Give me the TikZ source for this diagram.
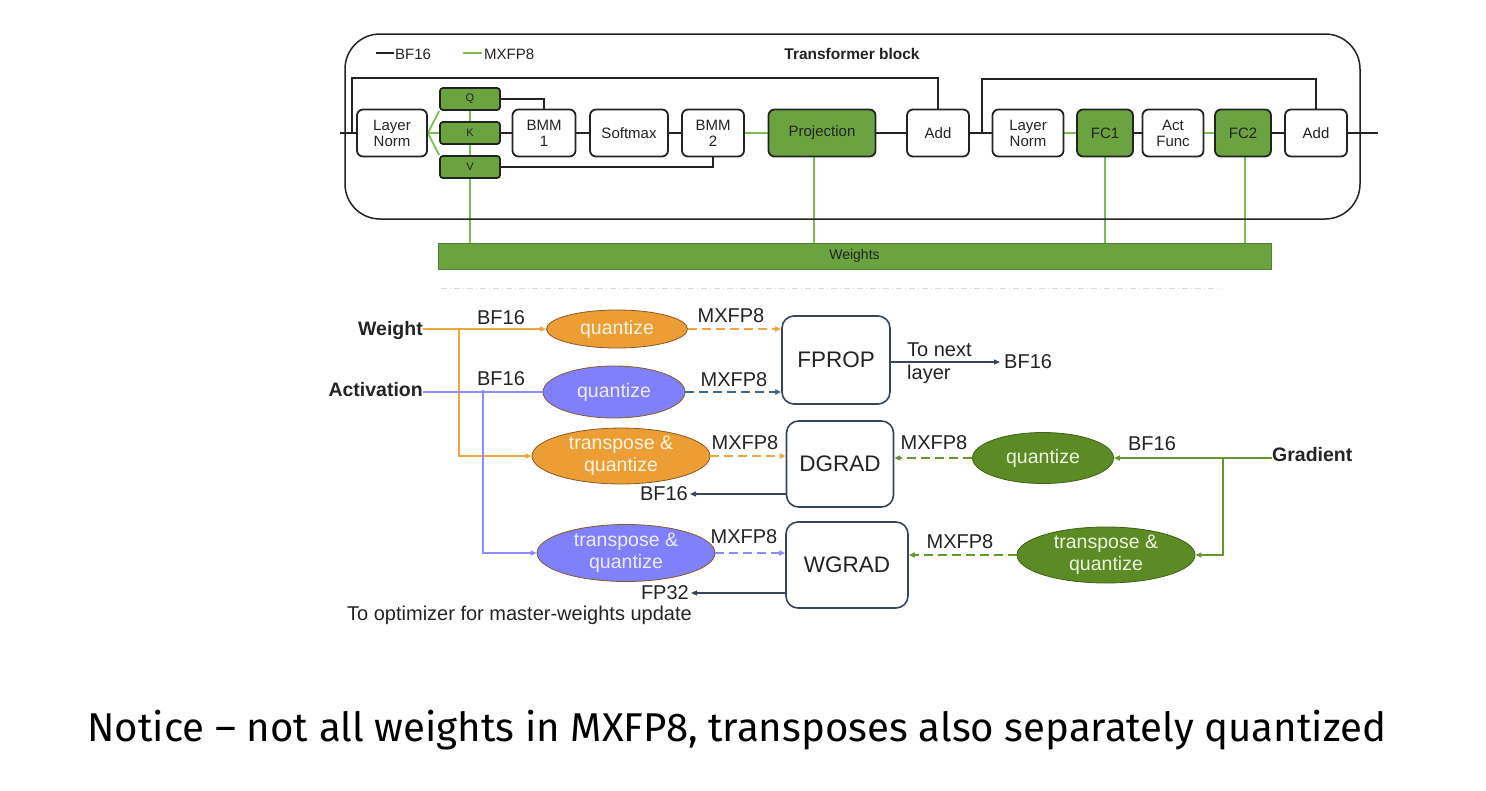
\documentclass[tikz,border=0pt]{standalone}
\usepackage{fontspec}
\setmainfont{Liberation Sans}
\newfontfamily\capfont{Fira Sans}
\usetikzlibrary{arrows.meta,shapes.geometric}

\definecolor{boxgreen}{RGB}{106,163,63}
\definecolor{wiregreen}{RGB}{124,190,82}
\definecolor{olivefill}{RGB}{92,138,36}
\definecolor{oliveline}{RGB}{104,152,44}
\definecolor{orangefill}{RGB}{236,157,52}
\definecolor{orangeline}{RGB}{240,166,62}
\definecolor{violetfill}{RGB}{128,128,250}
\definecolor{violetline}{RGB}{140,140,255}
\definecolor{steel}{RGB}{62,104,142}
\definecolor{slate}{RGB}{55,70,88}
\definecolor{ink}{RGB}{35,35,35}

\pgfdeclarelayer{bg}
\pgfsetlayers{bg,main}

\tikzset{
  blk/.style={draw=ink, line width=1.8pt, rounded corners=6pt, fill=white,
    minimum height=47pt, inner sep=0pt, align=center,
    font=\fontsize{15}{16}\selectfont, text=ink},
  gblk/.style={blk, fill=boxgreen},
  qkv/.style={draw=ink, line width=1.8pt, rounded corners=3pt, fill=boxgreen,
    minimum width=60pt, minimum height=22pt, inner sep=0pt,
    font=\fontsize{11}{12}\selectfont, text=ink},
  wire/.style={ink, line width=1.8pt},
  gwire/.style={wiregreen, line width=1.8pt},
  unit/.style={draw=slate, line width=1.6pt, rounded corners=12pt, fill=white,
    inner sep=0pt, font=\fontsize{22.5}{24}\selectfont, text=ink},
  oval/.style={ellipse, line width=0.8pt, inner sep=0pt, align=center,
    font=\fontsize{19.5}{22}\selectfont},
  lbl/.style={inner sep=0pt, font=\fontsize{20}{22}\selectfont, text=ink},
  head/.style={inner sep=0pt, font=\bfseries\fontsize{19.5}{22}\selectfont, text=ink},
  tip/.style={-{Triangle[length=6pt,width=5pt]}},
  dsh/.style={dash pattern=on 9pt off 5pt},
}

\begin{document}
\begin{tikzpicture}[x=1pt, y=-1pt]
\useasboundingbox (0,0) rectangle (1486,790);

% ---------- transformer block ----------
\draw[ink, line width=1.5pt, rounded corners=35pt] (345,34) rectangle (1360,219);

% legend
\coordinate (lgA) at (376,53);
\coordinate (lgB) at (394,53);
\coordinate (lgC) at (463,53);
\coordinate (lgD) at (482,53);
\draw[wire] (lgA) -- (lgB);
\node[anchor=west, inner sep=0pt, font=\fontsize{15}{16}\selectfont, text=ink] (lgbf) at (395,54) {BF16};
\draw[gwire] (lgC) -- (lgD);
\node[anchor=west, inner sep=0pt, font=\fontsize{15}{16}\selectfont, text=ink] (lgmx) at (484,54) {MXFP8};
\node[font=\bfseries\fontsize{15.5}{16}\selectfont, text=ink] (title) at (852,54) {Transformer block};

% blocks on the main path
\node[blk, minimum width=70pt] (ln1) at (392,133) {Layer\\Norm};
\node[qkv] (q) at (470,99) {Q};
\node[qkv] (k) at (470,133) {K};
\node[qkv] (v) at (470,167) {V};
\node[blk, minimum width=63pt] (bmm1) at (544,133) {BMM\\1};
\node[blk, minimum width=78pt] (soft) at (629,133) {Softmax};
\node[blk, minimum width=62pt] (bmm2) at (713,133) {BMM\\2};
\node[gblk, minimum width=107pt] (proj) at (822,133) {Projection};
\node[blk, minimum width=62pt] (add1) at (938,133) {Add};
\node[blk, minimum width=71pt] (ln2) at (1028,133) {Layer\\Norm};
\node[gblk, minimum width=56pt] (fc1) at (1105,133) {FC1};
\node[blk, minimum width=61pt] (act) at (1173,133) {Act\\Func};
\node[gblk, minimum width=56pt] (fc2) at (1243,133) {FC2};
\node[blk, minimum width=62pt] (add2) at (1316,133) {Add};

% weights bar
\node[draw=boxgreen!80!black, line width=0.6pt, fill=boxgreen, minimum width=833pt,
  minimum height=26pt, inner sep=0pt, font=\fontsize{14}{15}\selectfont, text=ink]
  (weights) at (854.5,256) {Weights};

% separator
\coordinate (sepL) at (441,288);
\coordinate (sepR) at (1222,288);
\draw[gray!30, line width=1pt, dash pattern=on 6pt off 3pt on 1pt off 3pt] (sepL) -- (sepR);

\coordinate (in) at (340,133);
\coordinate (r1) at (352,133);
\coordinate (top1) at (0,78);
\coordinate (r2) at (982,133);
\coordinate (top2) at (0,79);
\coordinate (out) at (1378,133);

\begin{pgfonlayer}{bg}
  % BF16 paths
  \draw[wire] (in) -- (ln1.west);
  \draw[wire] (r1) -- (r1 |- top1) -| (add1.north);
  \draw[wire] (q.east) -| (bmm1.north);
  \draw[wire] (k.east) -- (bmm1.west);
  \draw[wire] (v.east) -| (bmm2.south);
  \draw[wire] (bmm1.east) -- (soft.west);
  \draw[wire] (soft.east) -- (bmm2.west);
  \draw[wire] (proj.east) -- (add1.west);
  \draw[wire] (add1.east) -- (ln2.west);
  \draw[wire] (r2) -- (r2 |- top2) -| (add2.north);
  \draw[wire] (fc1.east) -- (act.west);
  \draw[wire] (fc2.east) -- (add2.west);
  \draw[wire] (add2.east) -- (out);
  % MXFP8 paths
  \draw[gwire] (ln1.east) -- (q.south west);
  \draw[gwire] (ln1.east) -- (k.west);
  \draw[gwire] (ln1.east) -- (v.north west);
  \draw[gwire] (bmm2.east) -- (proj.west);
  \draw[gwire] (ln2.east) -- (fc1.west);
  \draw[gwire] (act.east) -- (fc2.west);
  \draw[gwire] (q.center) -- (q.center |- weights.north);
  \draw[gwire] ([xshift=-8pt]proj.center) -- ([xshift=-8pt]proj.center |- weights.north);
  \draw[gwire] (fc1.center) -- (fc1.center |- weights.north);
  \draw[gwire] ([xshift=2pt]fc2.center) -- ([xshift=2pt]fc2.center |- weights.north);
\end{pgfonlayer}

% ---------- quantization data flow ----------
\node[head, anchor=east] (weight) at (423,330) {Weight};
\node[head, anchor=east] (actv) at (423,390) {Activation};
\node[head, anchor=west] (grad) at (1272,455) {Gradient};

\node[oval, draw=brown!70!black, fill=orangefill, text={rgb,255:red,255;green,246;blue,228},
  minimum width=141pt, minimum height=38pt] (wq) at (617,329) {quantize};
\node[oval, draw=brown!70!black, fill=violetfill, text={rgb,255:red,236;green,236;blue,255},
  minimum width=142pt, minimum height=52pt] (aq) at (614,392) {quantize};
\node[oval, draw=brown!70!black, fill=orangefill, text={rgb,255:red,255;green,246;blue,228},
  minimum width=178pt, minimum height=46pt] (wt) at (621,456) {transpose \&\\quantize};
\node[oval, draw=brown!70!black, fill=violetfill, text={rgb,255:red,236;green,236;blue,255},
  minimum width=178pt, minimum height=57pt] (at) at (626,553) {transpose \&\\quantize};
\node[oval, draw=olivefill!70!black, fill=olivefill, text={rgb,255:red,236;green,244;blue,226},
  minimum width=141pt, minimum height=51pt] (gq) at (1043,458) {quantize};
\node[oval, draw=olivefill!70!black, fill=olivefill, text={rgb,255:red,236;green,244;blue,226},
  minimum width=178pt, minimum height=56pt] (gt) at (1106,555) {transpose \&\\quantize};

\node[unit, minimum width=108pt, minimum height=88pt] (fprop) at (836,360) {FPROP};
\node[unit, minimum width=107pt, minimum height=86pt] (dgrad) at (840,464) {DGRAD};
\node[unit, minimum width=122pt, minimum height=86pt] (wgrad) at (847,565) {WGRAD};

\coordinate (wsplit) at (459,329);
\coordinate (asplit) at (483,390);
\coordinate (gsplit) at (1223,457);

% BF16 inputs
\draw[orangeline, line width=1.5pt, tip] (weight.east |- wq.west) -- (wq.west);
\draw[orangeline, line width=1.5pt, tip] (wsplit) |- (wt.west);
\draw[violetline, line width=1.5pt] (actv.east |- aq.west) -- (aq.west);
\draw[violetline, line width=1.5pt, tip] (asplit) |- (at.west);
\draw[oliveline, line width=1.5pt, tip] (grad.west |- gq.east) -- (gq.east);
\draw[oliveline, line width=1.5pt, tip] (gsplit) |- (gt.east);

% MXFP8 operands
\draw[orangeline, line width=1.5pt, dsh, tip] (wq.east) -- (fprop.west |- wq.east);
\draw[steel, line width=1.5pt, dsh, tip] (aq.east) -- (fprop.west |- aq.east);
\draw[orangeline, line width=1.5pt, dsh, tip] (wt.east) -- (dgrad.west |- wt.east);
\draw[violetline, line width=1.5pt, dsh, tip] (at.east) -- (wgrad.west |- at.east);
\draw[oliveline, line width=1.5pt, dsh, tip] (gq.west) -- (dgrad.east |- gq.west);
\draw[oliveline, line width=1.5pt, dsh, tip] (gt.west) -- (wgrad.east |- gt.west);

% labels
\node[lbl] (l1) at (501,318) {BF16};
\node[lbl] (l2) at (501,379) {BF16};
\node[lbl] (l3) at (731,316) {MXFP8};
\node[lbl] (l4) at (734,380) {MXFP8};
\node[lbl] (l5) at (745,443) {MXFP8};
\node[lbl] (l6) at (744,537) {MXFP8};
\node[lbl] (l7) at (934,443) {MXFP8};
\node[lbl] (l8) at (960,542) {MXFP8};
\node[lbl] (l9) at (1152,444) {BF16};

% outputs
\node[lbl, anchor=west] (nextbf) at (1004,362) {BF16};
\node[lbl, anchor=west] (tonext) at (907,350) {To next};
\node[lbl, anchor=west] (layer) at (907,374) {layer};
\draw[slate, line width=1.3pt, tip] (fprop.east |- nextbf.west) -- ([xshift=-4pt]nextbf.west);
\node[lbl, anchor=east] (dbf) at (688,494) {BF16};
\draw[slate, line width=1.3pt, tip] (dgrad.west |- dbf.east) -- ([xshift=2pt]dbf.east);
\node[lbl, anchor=east] (fp32) at (689,593) {FP32};
\draw[slate, line width=1.3pt, tip] (wgrad.west |- fp32.east) -- ([xshift=2pt]fp32.east);
\node[lbl, anchor=west] (opt) at (347,615) {To optimizer for master-weights update};

% caption
\node[inner sep=0pt, text=black] (cap) at (737,730)
  {\capfont\fontsize{40.2}{46}\selectfont Notice – not all weights in MXFP8, transposes also separately quantized};
\end{tikzpicture}
\end{document}
